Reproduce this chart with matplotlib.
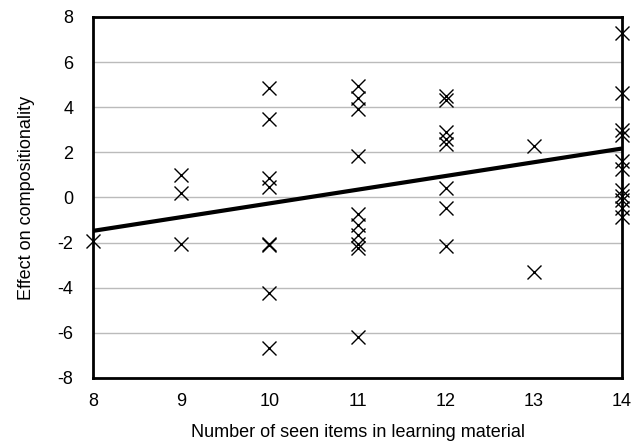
import matplotlib.pyplot as plt
from matplotlib.ticker import FuncFormatter

plt.rcParams['font.family'] = ['Liberation Sans', 'DejaVu Sans']

seen_items = [8,
              9, 9, 9,
              10, 10, 10, 10, 10, 10, 10, 10,
              11, 11, 11, 11, 11, 11, 11, 11, 11, 11,
              12, 12, 12, 12, 12, 12, 12, 12,
              13, 13,
              14, 14, 14, 14, 14, 14, 14, 14, 14, 14, 14]
effect = [-1.92,
          1.0, 0.2, -2.04,
          4.84, 3.5, 0.85, 0.45, -2.05, -2.12, -4.22, -6.68,
          4.92, 4.4, 3.9, 1.84, -0.75, -1.2, -1.65, -2.05, -2.25, -6.2,
          4.5, 4.3, 2.9, 2.6, 2.35, 0.4, -0.48, -2.16,
          2.28, -3.29,
          7.3, 4.62, 2.99, 2.75, 1.6, 1.25, 0.35, 0.05, -0.1, -0.45, -0.85]

fit_x = [8, 14]
fit_y = [-1.48, 2.17]

fig = plt.figure(figsize=(6.38, 4.41), dpi=100)
ax = fig.add_axes([0.1458, 0.1429, 0.8292, 0.8186])

ax.set_xlim(8, 14)
ax.set_ylim(-8, 8)
ax.set_xticks(range(8, 15))
ax.set_yticks(range(-8, 9, 2))
ax.yaxis.set_major_formatter(FuncFormatter(lambda v, p: '%d' % v))
ax.grid(axis='y', color='#bbbbbb', linewidth=1.0)
ax.set_axisbelow(True)

ax.plot(seen_items, effect, linestyle='none', marker='x', markersize=10,
        markeredgewidth=1.0, color='black', clip_on=False, zorder=3)
ax.plot(fit_x, fit_y, color='black', linewidth=3, solid_capstyle='butt', zorder=4)

for s in ax.spines.values():
    s.set_linewidth(2)
    s.set_zorder(5)
ax.tick_params(axis='x', length=0, labelsize=13, pad=11)
ax.tick_params(axis='y', length=0, labelsize=13, pad=14)

ax.set_xlabel('Number of seen items in learning material', fontsize=13, labelpad=10)
ax.set_ylabel('Effect on compositionality', fontsize=13, labelpad=16)

plt.savefig('out.png', dpi=100)
